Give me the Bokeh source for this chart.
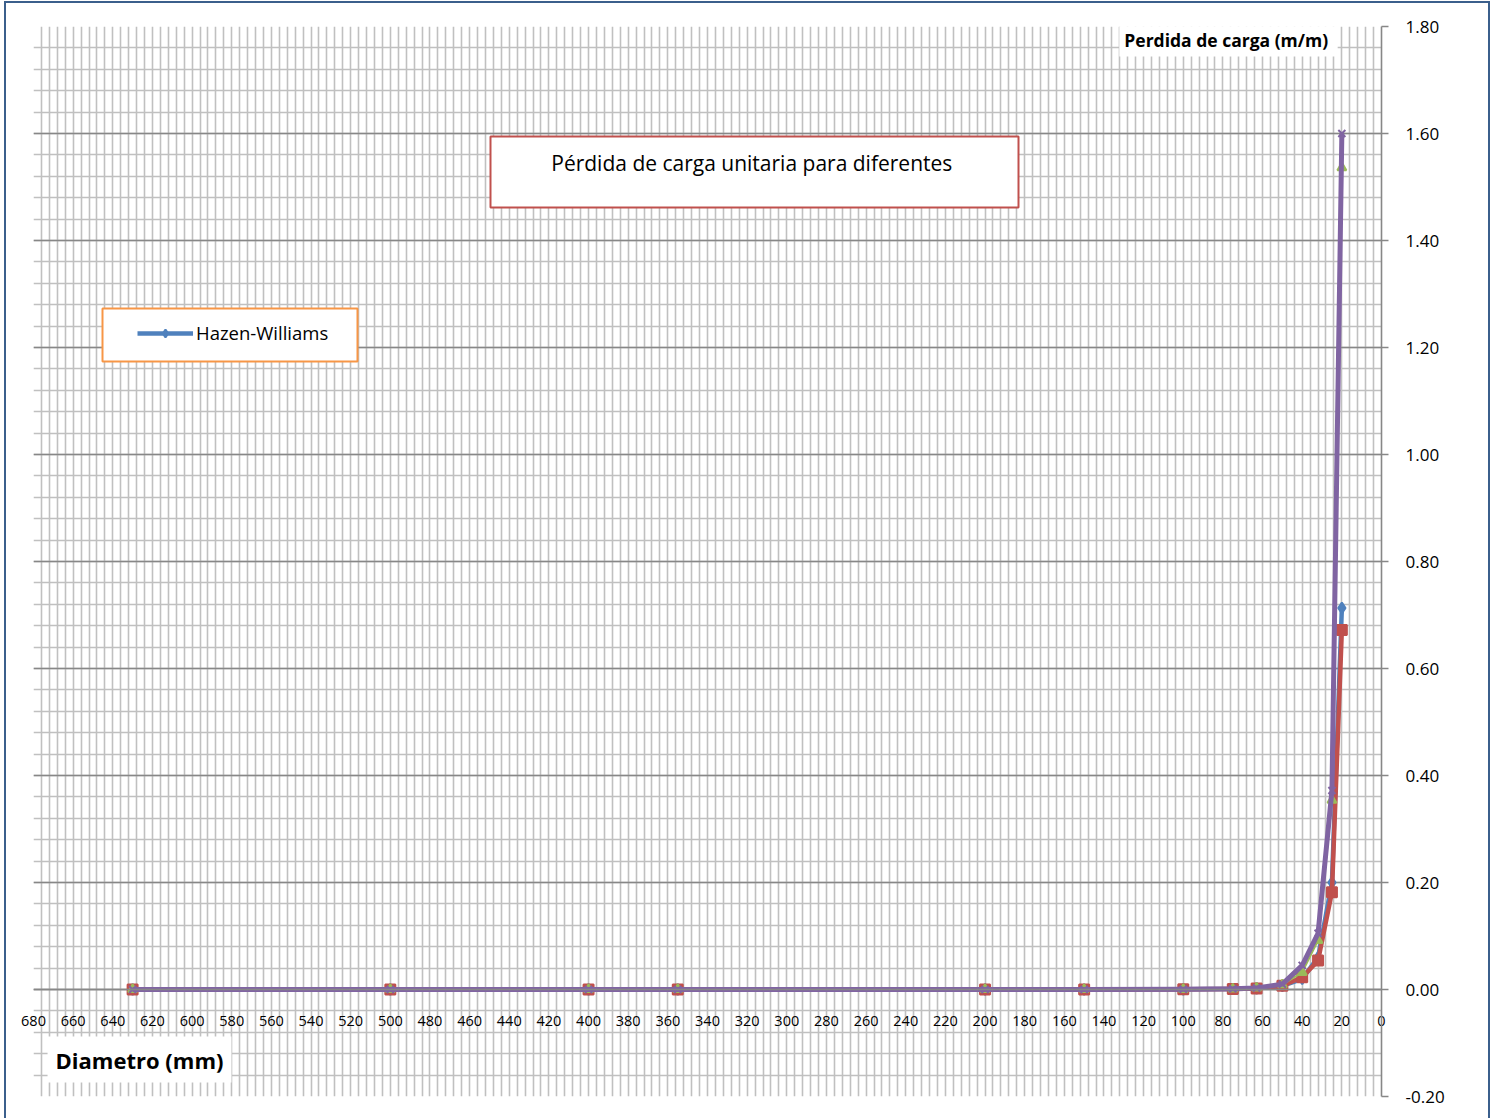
from bokeh.plotting import figure
from bokeh.models import (Range1d, Grid, SingleIntervalTicker, FixedTicker, PrintfTickFormatter,
                          Span, Label, ColumnDataSource, BoxAnnotation, Legend, LegendItem)
from bokeh.embed import file_html
from bokeh.resources import INLINE

# Diámetros nominales (mm) y pérdida de carga unitaria (m/m) de cada método
diametros = [630, 500, 400, 355, 200, 150, 100, 75, 63, 50, 40, 32, 25, 20]
hazen_williams = [0.0000, 0.0000, 0.0000, 0.0000, 0.0000, 0.0001, 0.0003, 0.0009, 0.0021, 0.0066, 0.0200, 0.0600, 0.2000, 0.7130]
serie_roja = [0.0000, 0.0000, 0.0000, 0.0000, 0.0000, 0.0001, 0.0003, 0.0008, 0.0020, 0.0070, 0.0230, 0.0540, 0.1820, 0.6720]
serie_verde = [0.0000, 0.0000, 0.0000, 0.0000, 0.0000, 0.0001, 0.0004, 0.0011, 0.0028, 0.0090, 0.0320, 0.0920, 0.3540, 1.5360]
serie_morada = [0.0000, 0.0000, 0.0000, 0.0000, 0.0000, 0.0001, 0.0004, 0.0012, 0.0030, 0.0100, 0.0450, 0.1050, 0.3720, 1.6000]

x_ticks = list(range(680, -1, -20))
y_ticks = [-0.2, 0.0, 0.2, 0.4, 0.6, 0.8, 1.0, 1.2, 1.4, 1.6, 1.8]

FONT = "Open Sans"
# canvas sits inside a 2px border, offset (6, 3) on the page
OX, OY = 6, 3
CW, CH = 1486, 1122          # drawn canvas size (the border adds 4px to the requested size)
W, H = CW - 4, CH - 4
FL, FR, FT, FB = 33 - OX, 1381 - OX, 26 - OY, 1096 - OY   # plot frame edges on the canvas
X0, X1 = 680, 0
Y0, Y1 = -0.2, 1.8


def px_x(px):
    """page x pixel -> data x"""
    return X0 + (px - OX - FL) * (X1 - X0) / (FR - FL)


def px_y(py):
    """page y pixel -> data y"""
    return Y1 - (py - OY - FT) * (Y1 - Y0) / (FB - FT)


p = figure(width=W, height=H, output_backend="svg", toolbar_location=None,
           x_range=Range1d(X0, X1), y_range=Range1d(Y0, Y1),
           x_axis_location="below", y_axis_location="right",
           min_border_left=FL, min_border_right=CW - FR,
           min_border_top=FT, min_border_bottom=CH - FB,
           background_fill_color="white", border_fill_color="white")
p.outline_line_color = None
p.styles = {"border": "2px solid #3B5F8C", "margin-left": "4px", "margin-top": "1px",
            "box-sizing": "content-box"}

# replace default grids
p.center = [r for r in p.center if not isinstance(r, Grid)]
light = "#C0C0C0"
dark = "#878787"
p.add_layout(Grid(dimension=0, ticker=SingleIntervalTicker(interval=4, num_minor_ticks=0),
                  grid_line_color=light, grid_line_width=1.6))
p.add_layout(Grid(dimension=1, ticker=SingleIntervalTicker(interval=0.2, num_minor_ticks=5),
                  grid_line_color=dark, grid_line_width=1.6,
                  minor_grid_line_color=light, minor_grid_line_width=1.6))

# y axis on the right
ya = p.yaxis[0]
ya.ticker = FixedTicker(ticks=y_ticks)
ya.formatter = PrintfTickFormatter(format="%.2f")
ya.axis_line_color = dark
ya.axis_line_width = 1.6
ya.major_tick_line_color = dark
ya.major_tick_line_width = 1.6
ya.major_tick_out = 7
ya.major_tick_in = 0
ya.minor_tick_line_color = None
ya.major_label_standoff = 17
ya.major_label_text_font = FONT
ya.major_label_text_font_size = "17px"
ya.major_label_text_color = "#000000"

# x axis: labels lifted up to sit just under the zero line
xa = p.xaxis[0]
xa.ticker = FixedTicker(ticks=x_ticks)
xa.axis_line_color = None
xa.major_tick_line_color = None
xa.minor_tick_line_color = None
xa.major_tick_out = 0
xa.major_tick_in = 0
xa.major_label_standoff = -81
xa.major_label_text_font = FONT
xa.major_label_text_font_size = "14.5px"
xa.major_label_text_color = "#000000"
if "major_label_background_fill_color" in xa.properties():
    xa.major_label_background_fill_color = "white"

# horizontal axis line at zero
p.add_layout(Span(location=0, dimension="width", line_color=dark, line_width=1.6))

# series
series = [
    (hazen_williams, "#4F81BD", "diamond", 4.5, 11),
    (serie_roja, "#C0504D", "square", 4.5, 10),
    (serie_verde, "#9BBB59", "triangle", 2.0, 9),
    (serie_morada, "#8064A2", "x", 5.0, 10),
]
renderers = []
for vals, color, marker, lw, ms in series:
    src = ColumnDataSource(dict(x=diametros, y=vals))
    ln = p.line("x", "y", source=src, line_color=color, line_width=lw, line_join="round")
    mk = p.scatter("x", "y", source=src, marker=marker, size=ms,
                   fill_color=color, line_color=color, line_width=2)
    renderers.append((ln, mk))

# title box
p.add_layout(BoxAnnotation(left=px_x(490), right=px_x(1018), top=px_y(136), bottom=px_y(207),
                           fill_color="white", fill_alpha=1, line_color="#C0504D",
                           line_alpha=1, line_width=2))
p.add_layout(Label(x=px_x(754), y=px_y(162), text="Pérdida  de carga unitaria para diferentes",
                   text_align="center", text_baseline="middle", text_font=FONT,
                   text_font_size="21px", text_color="#000000"))

# axis titles
has_pad = "padding" in Label.properties()
lbl_y = Label(x=px_x(1228), y=px_y(39), text="Perdida de carga  (m/m)",
              text_align="center", text_baseline="middle", text_font=FONT,
              text_font_size="17.5px", text_font_style="bold", text_color="#000000",
              background_fill_color="white")
lbl_x = Label(x=px_x(139), y=px_y(1059), text="Diametro (mm)",
              text_align="center", text_baseline="middle", text_font=FONT,
              text_font_size="22px", text_font_style="bold", text_color="#000000",
              background_fill_color="white")
if has_pad:
    lbl_y.padding = 5
    lbl_x.padding = 8
p.add_layout(lbl_y)
p.add_layout(lbl_x)

# legend box
p.add_layout(BoxAnnotation(left=px_x(102), right=px_x(357), top=px_y(308), bottom=px_y(361),
                           fill_color="white", fill_alpha=1, line_color="#F79646",
                           line_alpha=1, line_width=2))
legend = Legend(items=[LegendItem(label="Hazen-Williams", renderers=list(renderers[0]))],
                location=(137 - OX - FL, FB - (345 - OY)), padding=0, margin=0,
                border_line_color=None, background_fill_alpha=0,
                glyph_width=56, glyph_height=20, label_height=20, label_standoff=3,
                label_text_font=FONT, label_text_font_size="18.5px", label_text_color="#000000")
p.add_layout(legend)

open("out.html", "w").write(file_html(p, INLINE))
